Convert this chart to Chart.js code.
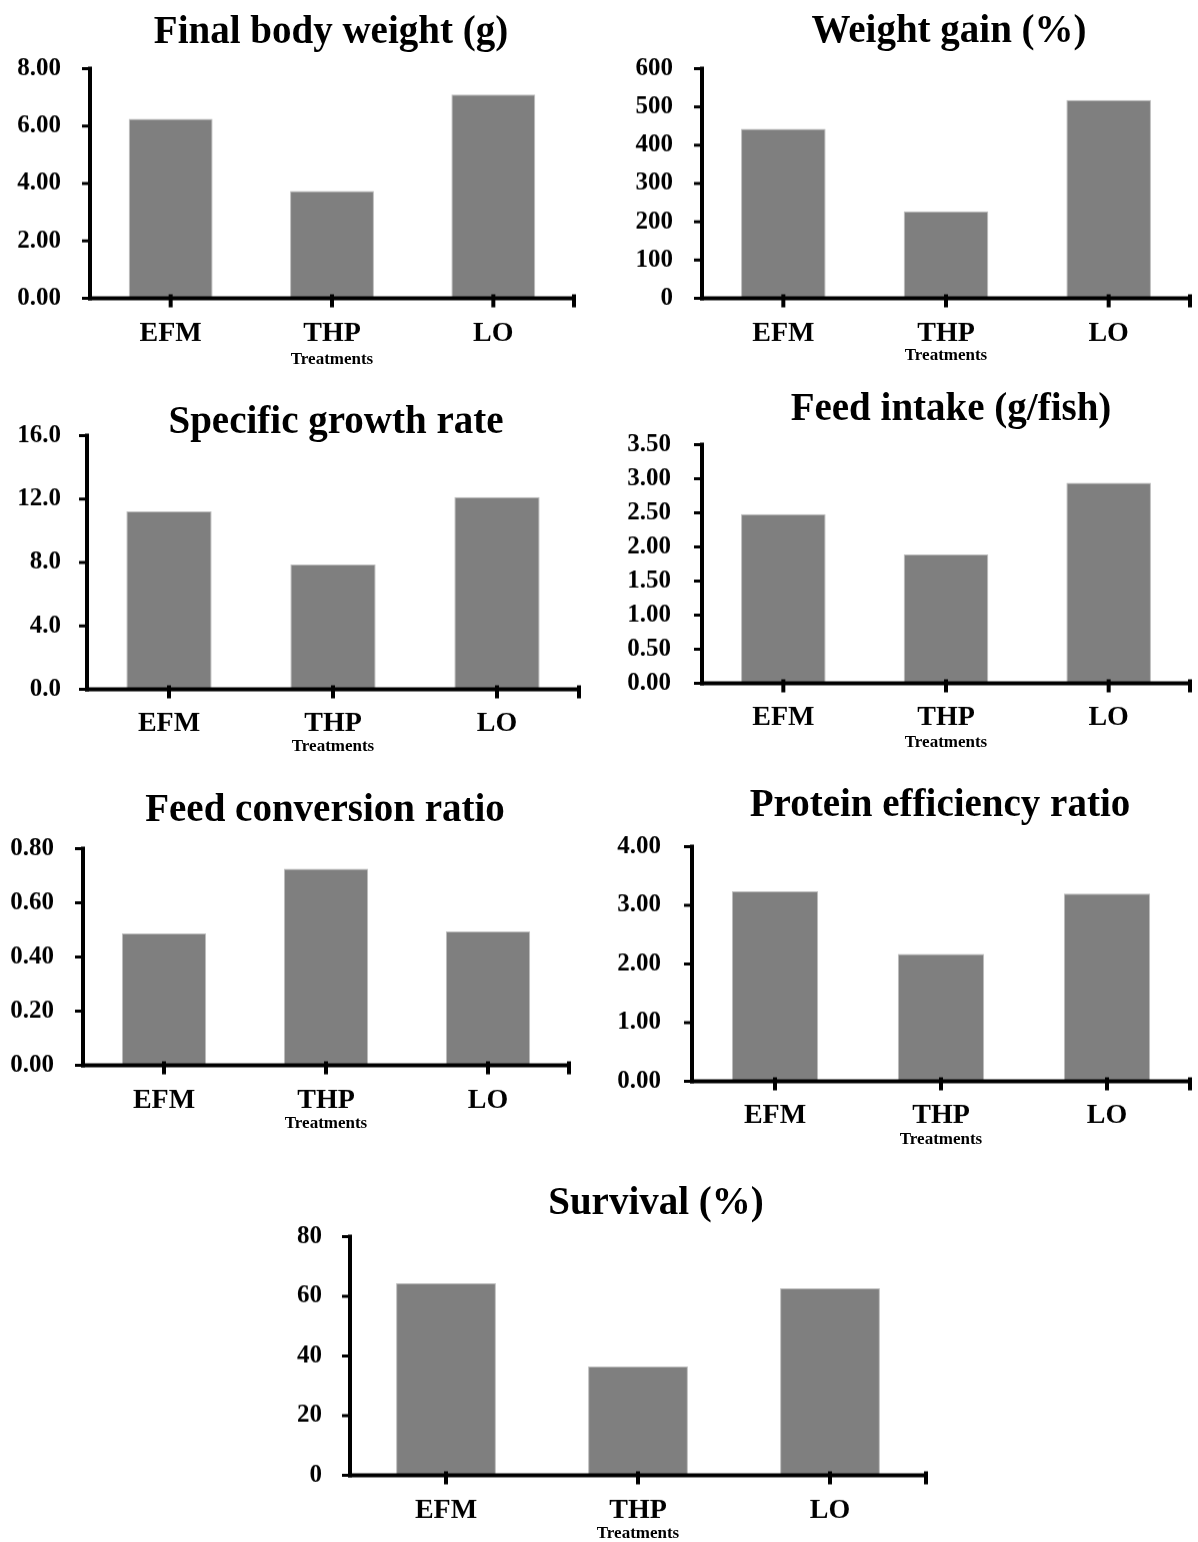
<!DOCTYPE html>
<html>
<head>
<meta charset="utf-8">
<title>Growth performance by treatment</title>
<script src="https://cdn.jsdelivr.net/npm/chart.js@4.4.1/dist/chart.umd.min.js"></script>
<style>
  html, body { margin: 0; padding: 0; background: #fff; }
  #page { position: relative; width: 1198px; height: 1542px; overflow: hidden; }
  canvas { position: absolute; }
  .panel-title {
    position: absolute;
    transform: translate(-50%, -50%);
    font: bold 39px "Liberation Serif", "Times New Roman", serif;
    line-height: 1;
    white-space: nowrap;
    color: #000;
  }
</style>
</head>
<body>
<div id="page"></div>
<script>
// Treatment groups
const treatments = ['EFM', 'THP', 'LO'];

// Measured responses per treatment
const finalBodyWeight = [6.25, 3.74, 7.10];
const weightGain = [443, 227, 518];
const specificGrowthRate = [11.23, 7.88, 12.12];
const feedIntake = [2.48, 1.89, 2.94];
const feedConversionRatio = [0.487, 0.726, 0.494];
const proteinEfficiencyRatio = [3.24, 2.17, 3.20];
const survival = [64.4, 36.5, 62.7];

// Y-axis tick labels
const finalBodyWeightTicks = ['0.00', '2.00', '4.00', '6.00', '8.00'];
const weightGainTicks = ['0', '100', '200', '300', '400', '500', '600'];
const specificGrowthRateTicks = ['0.0', '4.0', '8.0', '12.0', '16.0'];
const feedIntakeTicks = ['0.00', '0.50', '1.00', '1.50', '2.00', '2.50', '3.00', '3.50'];
const feedConversionRatioTicks = ['0.00', '0.20', '0.40', '0.60', '0.80'];
const proteinEfficiencyRatioTicks = ['0.00', '1.00', '2.00', '3.00', '4.00'];
const survivalTicks = ['0', '20', '40', '60', '80'];

const xAxisTitle = 'Treatments';

// Panel layout: plot box on the page, title centre, label spacing
const panels = [
  { title: 'Final body weight (g)', values: finalBodyWeight, ticks: finalBodyWeightTicks,
    left: 90, right: 574, top: 67, bottom: 298, titleX: 331, titleY: 29, yPad: 29, xPad: 21, xH: 69.5 },
  { title: 'Weight gain (%)', values: weightGain, ticks: weightGainTicks,
    left: 702, right: 1190, top: 67, bottom: 298, titleX: 949, titleY: 28, yPad: 29, xPad: 21, xH: 65.5 },
  { title: 'Specific growth rate', values: specificGrowthRate, ticks: specificGrowthRateTicks,
    left: 87, right: 579, top: 437, bottom: 689, titleX: 336, titleY: 419, yPad: 26, xPad: 20, xH: 65.5 },
  { title: 'Feed intake (g/fish)', values: feedIntake, ticks: feedIntakeTicks,
    left: 702, right: 1190, top: 441, bottom: 683, titleX: 951, titleY: 406, yPad: 31, xPad: 20, xH: 67.5 },
  { title: 'Feed conversion ratio', values: feedConversionRatio, ticks: feedConversionRatioTicks,
    left: 83, right: 569, top: 847, bottom: 1065, titleX: 325, titleY: 807, yPad: 29, xPad: 21, xH: 66.5 },
  { title: 'Protein efficiency ratio', values: proteinEfficiencyRatio, ticks: proteinEfficiencyRatioTicks,
    left: 692, right: 1190, top: 843, bottom: 1081, titleX: 940, titleY: 802, yPad: 31, xPad: 20, xH: 66.5 },
  { title: 'Survival (%)', values: survival, ticks: survivalTicks,
    left: 350, right: 926, top: 1236, bottom: 1475, titleX: 656, titleY: 1200, yPad: 28, xPad: 21, xH: 66.5 }
];

const SERIF = '"Liberation Serif", "Times New Roman", serif';

// Draws the thick black axes with their tick marks
const axisFrame = {
  id: 'axisFrame',
  afterDatasetsDraw(chart) {
    const { ctx, chartArea: a, scales: { x, y } } = chart;
    const seg = (x1, y1, x2, y2) => { ctx.beginPath(); ctx.moveTo(x1, y1); ctx.lineTo(x2, y2); ctx.stroke(); };
    ctx.save();
    ctx.strokeStyle = '#000';
    ctx.lineCap = 'butt';
    ctx.lineWidth = 3;
    y.ticks.forEach(t => {
      const py = y.getPixelForValue(t.value);
      seg(a.left - 8, py, a.left, py);
    });
    ctx.lineWidth = 4;
    seg(a.left, a.top - 2, a.left, a.bottom + 2);
    seg(a.left - 2, a.bottom, a.right + 2, a.bottom);
    x.ticks.forEach((t, i) => {
      const px = x.getPixelForTick(i);
      seg(px, a.bottom - 4, px, a.bottom + 9);
    });
    seg(a.right, a.bottom - 4, a.right, a.bottom + 9);
    ctx.restore();
  }
};

const page = document.getElementById('page');

panels.forEach(p => {
  const canvasLeft = Math.max(0, p.left - 90);
  const yWidth = p.left - canvasLeft;
  const padTop = 20, padRight = 6, padBottom = 4;
  // the y scale reserves its own top room on top of the layout padding
  const canvasTop = p.top - 2 * padTop;
  const width = p.right + padRight - canvasLeft;
  const height = p.bottom + p.xH + padBottom - canvasTop;

  const canvas = document.createElement('canvas');
  canvas.width = width;
  canvas.height = height;
  canvas.style.left = canvasLeft + 'px';
  canvas.style.top = canvasTop + 'px';
  canvas.style.width = width + 'px';
  canvas.style.height = height + 'px';
  page.appendChild(canvas);

  const title = document.createElement('div');
  title.className = 'panel-title';
  title.textContent = p.title;
  title.style.left = p.titleX + 'px';
  title.style.top = p.titleY + 'px';
  page.appendChild(title);

  const yMax = parseFloat(p.ticks[p.ticks.length - 1]);
  const yStep = parseFloat(p.ticks[1]) - parseFloat(p.ticks[0]);

  new Chart(canvas, {
    type: 'bar',
    data: {
      labels: treatments,
      datasets: [{
        data: p.values,
        backgroundColor: '#7f7f7f',
        borderColor: '#bdbdbd',
        borderWidth: 1,
        barPercentage: 0.52,
        categoryPercentage: 1.0
      }]
    },
    options: {
      responsive: false,
      animation: false,
      devicePixelRatio: 1,
      layout: { padding: { left: 0, right: padRight, top: padTop, bottom: padBottom } },
      plugins: { legend: { display: false }, tooltip: { enabled: false }, title: { display: false } },
      scales: {
        x: {
          type: 'category',
          offset: true,
          grid: { display: false, drawTicks: false },
          border: { display: false },
          ticks: {
            color: '#000',
            padding: p.xPad,
            font: { family: SERIF, size: 28, weight: 'bold', lineHeight: 1 },
            maxRotation: 0,
            autoSkip: false
          },
          title: {
            display: true,
            text: xAxisTitle,
            color: '#000',
            padding: 0,
            font: { family: SERIF, size: 17, weight: 'bold', lineHeight: 1 }
          },
          afterFit(scale) { scale.height = p.xH; }
        },
        y: {
          min: 0,
          max: yMax,
          grid: { display: false, drawTicks: false },
          border: { display: false },
          ticks: {
            stepSize: yStep,
            color: '#000',
            padding: p.yPad,
            font: { family: SERIF, size: 25, weight: 'bold', lineHeight: 1 },
            callback: (value, index) => p.ticks[index]
          },
          afterFit(scale) { scale.width = yWidth; }
        }
      }
    },
    plugins: [axisFrame]
  });
});
</script>
</body>
</html>
